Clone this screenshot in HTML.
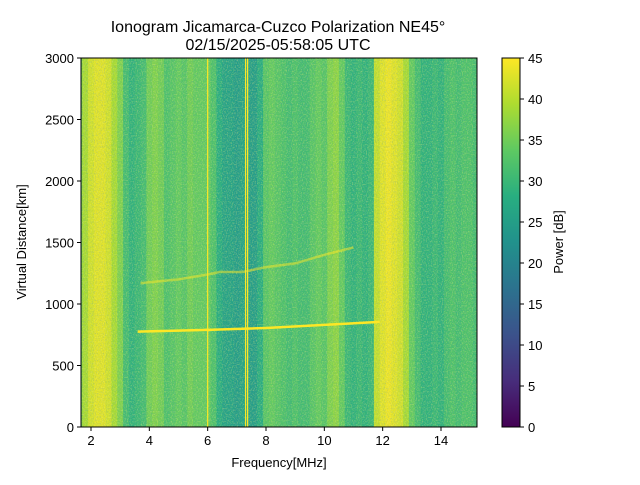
<!DOCTYPE html>
<html><head><meta charset="utf-8"><style>
body{margin:0;background:#fff;}
svg text{font-family:"Liberation Sans","DejaVu Sans",sans-serif;fill:#000;}
</style></head><body>
<svg id="chart" width="640" height="480" xmlns="http://www.w3.org/2000/svg">
<defs>
<filter id="noise" x="0" y="0" width="100%" height="100%">
<feTurbulence type="fractalNoise" baseFrequency="0.9 0.6" numOctaves="2" seed="3"/>
<feColorMatrix type="matrix" values="0 0 0 0 0.1  0 0 0 0 0.3  0 0 0 0 0.45  0 0 0 1.8 -0.8"/>
</filter>
<filter id="noise2" x="0" y="0" width="100%" height="100%">
<feTurbulence type="fractalNoise" baseFrequency="0.8 0.7" numOctaves="2" seed="11"/>
<feColorMatrix type="matrix" values="0 0 0 0 1  0 0 0 0 0.95  0 0 0 0 0.2  0 0 0 1.8 -0.8"/>
</filter>
<linearGradient id="cbar" x1="0" y1="1" x2="0" y2="0">
<stop offset="0" stop-color="#440154"/><stop offset="0.125" stop-color="#472d7b"/>
<stop offset="0.25" stop-color="#3b528b"/><stop offset="0.375" stop-color="#2c728e"/>
<stop offset="0.5" stop-color="#21918c"/><stop offset="0.625" stop-color="#28ae80"/>
<stop offset="0.75" stop-color="#5ec962"/><stop offset="0.875" stop-color="#addc30"/>
<stop offset="1" stop-color="#fde725"/>
</linearGradient>
<clipPath id="plotclip"><rect x="81" y="58" width="396" height="369"/></clipPath>
</defs>
<text x="278" y="32" font-size="16" text-anchor="middle">Ionogram Jicamarca-Cuzco Polarization NE45°</text>
<text x="278" y="50" font-size="16" text-anchor="middle">02/15/2025-05:58:05 UTC</text>
<g id="plot" clip-path="url(#plotclip)"></g>
<rect x="81" y="58" width="396" height="369" fill="none" stroke="#000" stroke-width="1"/>
<g id="axes"></g>
<text x="279" y="467" font-size="13" text-anchor="middle">Frequency[MHz]</text>
<text transform="translate(26,242) rotate(-90)" font-size="13" text-anchor="middle">Virtual Distance[km]</text>
<rect x="502" y="58" width="18" height="369" fill="url(#cbar)" stroke="#000" stroke-width="1"/>
<g id="cbaxis"></g>
<text transform="translate(563,242) rotate(-90)" font-size="13" text-anchor="middle">Power [dB]</text>
</svg>
<script>
const binStart = 1.6, binStep = 0.2;
const bandPower = [35,39,42,43,43,42,39,36,31,29,30,31,35,36,35,32,33,34,33,35,34,34,34,32,28,26,26,25,26,25,25,28,33,34,33,32,31,32,31,31,33,34,33,36,37,34,30,29,30,29,30,41,43,44,43,42,39,34,31,29,29,30,29,31,32,31,32,32,31];
const lineFreqs = [6.0, 7.3, 7.37];
const lowerTraceF = [3.6, 6.0, 8.0, 10.0, 11.9];
const lowerTraceH = [775, 790, 805, 830, 855];
const upperTraceF = [3.7, 5.0, 6.0, 6.4, 7.2, 8.0, 9.0, 10.0, 11.0];
const upperTraceH = [1170, 1200, 1240, 1260, 1260, 1300, 1330, 1400, 1460];
const xTicks = [2,4,6,8,10,12,14];
const yTicks = [0,500,1000,1500,2000,2500,3000];
const cTicks = [0,5,10,15,20,25,30,35,40,45];

const NS="http://www.w3.org/2000/svg";
const x0=81,x1=477,y0=427,y1=58;
const fx=f=>91+(f-2)*350/12;
const hy=h=>y0-(h/3000)*(y0-y1);
const vir=[[68,1,84],[71,44,122],[59,82,139],[44,114,142],[33,145,140],[40,174,128],[94,201,98],[173,220,48],[253,231,37]];
function cmap(v){let t=Math.max(0,Math.min(1,v/45))*8;let i=Math.min(7,Math.floor(t));let r=t-i;
 const a=vir[i],b=vir[i+1];return `rgb(${a.map((c,k)=>Math.round(c+(b[k]-c)*r)).join(',')})`;}
function mk(tag,attrs,parent){const e=document.createElementNS(NS,tag);for(const k in attrs)e.setAttribute(k,attrs[k]);parent.appendChild(e);return e;}
const plot=document.getElementById('plot');
bandPower.forEach((p,i)=>{
 const f=binStart+i*binStep;
 const r=mk('rect',{x:fx(f-binStep/2),y:y1,width:fx(f+binStep/2)-fx(f-binStep/2)+0.5,height:y0-y1,fill:cmap(p)},plot);
 
 
});
const n1=mk('rect',{x:x0,y:y1,width:396,height:369,filter:'url(#noise)',opacity:0.45},plot);


const n2=mk('rect',{x:x0,y:y1,width:396,height:369,filter:'url(#noise2)',opacity:0.5},plot);


lineFreqs.forEach(f=>{
 const l=mk('line',{x1:fx(f),x2:fx(f),y1:y1,y2:y0,stroke:cmap(45),'stroke-width':1.2},plot);
 
 
});
function trace(F,H,w,op,name){
 const pl=mk('polyline',{points:F.map((f,i)=>fx(f)+','+hy(H[i])).join(' '),fill:'none',stroke:cmap(45),'stroke-width':w,opacity:op},plot);
 
 
}
trace(lowerTraceF,lowerTraceH,2.5,1,'lower-echo-trace');
trace(upperTraceF,upperTraceH,2.5,0.5,'upper-echo-trace');
const axes=document.getElementById('axes');
xTicks.forEach(t=>{
 const x=fx(t);
 const tk=mk('line',{x1:x,x2:x,y1:y0,y2:y0+4,stroke:'#000'},axes);
 
 
 const tx=mk('text',{x:x,y:y0+18,'font-size':13,'text-anchor':'middle'},axes);tx.textContent=t;
 
 
});
yTicks.forEach(t=>{
 const y=hy(t);
 const tk=mk('line',{x1:x0-4,x2:x0,y1:y,y2:y,stroke:'#000'},axes);
 
 
 const tx=mk('text',{x:x0-7,y:y+5,'font-size':13,'text-anchor':'end'},axes);tx.textContent=t;
 
 
});
const cb=document.getElementById('cbaxis');
cTicks.forEach(t=>{
 const y=y0-(t/45)*(y0-y1);
 const tk=mk('line',{x1:520,x2:524,y1:y,y2:y,stroke:'#000'},cb);
 
 
 const tx=mk('text',{x:528,y:y+5,'font-size':13},cb);tx.textContent=t;
 
 
});
</script>
</body></html>
